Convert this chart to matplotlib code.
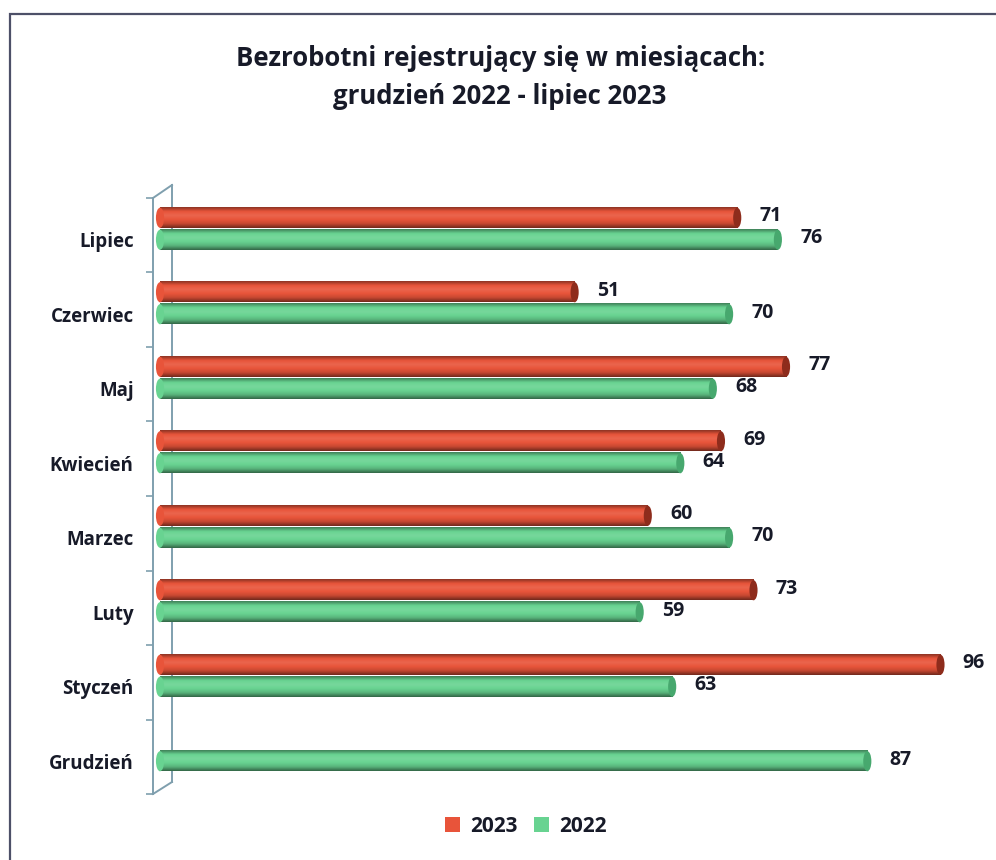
"""Bezrobotni rejestrujący się w miesiącach — cylinder-style horizontal bars"""

import matplotlib
matplotlib.use("Agg")
import matplotlib.pyplot as plt
import numpy as np
from matplotlib.colors import LinearSegmentedColormap
from matplotlib.lines import Line2D
from matplotlib.patches import Ellipse, Rectangle

# Data (bottom to top)
months = ["Grudzień", "Styczeń", "Luty", "Marzec", "Kwiecień", "Maj", "Czerwiec", "Lipiec"]
values_2023 = [None, 96, 73, 60, 69, 77, 51, 71]
values_2022 = [87, 63, 59, 70, 64, 68, 70, 76]
series_labels = ["2023", "2022"]

RED = "#E8543A"
GREEN = "#68D391"
TEXT = "#171A28"
WALL = "#7F9FAE"
FONT = "Open Sans"

W, H = 996, 860
fig = plt.figure(figsize=(W / 100, H / 100), dpi=100)
fig.patch.set_facecolor("white")


def px(x, y):
    """figure pixel (from top-left) -> figure fraction"""
    return x / W, 1 - y / H


# outer frame (runs off the right and bottom of the scan)
fig.patches.append(Rectangle(px(10, 900), 1100 / W, 886 / H, transform=fig.transFigure,
                             fill=False, edgecolor="#4D5068", linewidth=1.6))

# axes area: front wall line x=153, rows from y=198 to y=794
ax_l, ax_r, ax_t, ax_b = 153, 990, 198, 794
ax = fig.add_axes([ax_l / W, 1 - ax_b / H, (ax_r - ax_l) / W, (ax_b - ax_t) / H])
px_per_unit = 8.13
x0 = 160
ax.set_xlim(-(x0 - ax_l) / px_per_unit, (ax_r - x0) / px_per_unit)
ax.set_ylim(-0.5, len(months) - 0.5)
ax.set_facecolor("none")

for s in ["top", "right", "bottom"]:
    ax.spines[s].set_visible(False)
ax.spines["left"].set_color(WALL)
ax.spines["left"].set_linewidth(1.4)
ax.set_xticks([])
ax.set_yticks(np.arange(len(months) + 1) - 0.5)
ax.set_yticklabels([])
ax.tick_params(axis="y", which="major", direction="out", length=5, width=1.2, color=WALL)
ax.set_yticks(np.arange(len(months)) - 0.06, minor=True)
ax.set_yticklabels(months, minor=True, fontsize=13.5, fontweight="bold", color=TEXT, family=FONT)
ax.tick_params(axis="y", which="minor", length=0, pad=14)

# back wall lines (behind the bars)
for seg in [((153, 198), (172, 185)), ((172, 185), (172, 782)), ((172, 782), (153, 794))]:
    (xa, ya), (xb, yb) = seg
    fa, fb = px(xa, ya), px(xb, yb)
    fig.add_artist(Line2D([fa[0], fb[0]], [fa[1], fb[1]], transform=fig.transFigure,
                          color=WALL, linewidth=1.4, zorder=-1))

bar_h = 0.27
y = np.arange(len(months))
offsets = [0.235, -0.06]


def shade_cmap(base):
    c = np.array(matplotlib.colors.to_rgb(base))
    dark = c * 0.6
    light = np.clip(c + (1 - c) * 0.1, 0, 1)
    return LinearSegmentedColormap.from_list("s", [dark, c, light, c, c * 0.85, dark * 0.8])


caps = {RED: "#8E2C1C", GREEN: "#47A86E"}

for vals, off, color, lab in zip([values_2023, values_2022], offsets, [RED, GREEN], series_labels):
    cmap = shade_cmap(color)
    grad = np.linspace(0, 1, 64).reshape(-1, 1)
    for yi, v in zip(y, vals):
        if v is None:
            continue
        yc = yi + off
        bar = ax.barh(yc, v, height=bar_h, color=color, edgecolor="none", zorder=2)[0]
        ax.imshow(grad, extent=(0, v, yc - bar_h / 2, yc + bar_h / 2), aspect="auto",
                  cmap=cmap, clip_path=bar, zorder=3, interpolation="bicubic")
        ax.add_patch(Ellipse((0, yc), 1.0, bar_h, facecolor=color, edgecolor="none", zorder=3))
        ax.add_patch(Ellipse((v, yc), 1.0, bar_h, facecolor=caps[color], edgecolor="none", zorder=4))
        ax.annotate(str(v), (v, yc), xytext=(16, 1), textcoords="offset points",
                    ha="left", va="center", fontsize=14, fontweight="bold", color=TEXT, family=FONT)
    ax.barh([np.nan], [0], color=color, label=lab)

ax.set_ylim(-0.5, len(months) - 0.5)

leg = fig.legend(*ax.get_legend_handles_labels(), loc="center", bbox_to_anchor=px(526, 826),
                 ncol=2, frameon=False, handlelength=0.7, handleheight=0.7, handletextpad=0.5,
                 columnspacing=0.8, prop={"family": FONT, "weight": "bold", "size": 15})
for t in leg.get_texts():
    t.set_color(TEXT)

fig.text(*px(501, 58), "Bezrobotni rejestrujący się w miesiącach:", ha="center", va="center",
         fontsize=18.5, fontweight="bold", color=TEXT, family=FONT)
fig.text(*px(500, 97), "grudzień 2022 - lipiec 2023", ha="center", va="center",
         fontsize=18.5, fontweight="bold", color=TEXT, family=FONT)

fig.savefig("out.png", dpi=100, facecolor="white")
